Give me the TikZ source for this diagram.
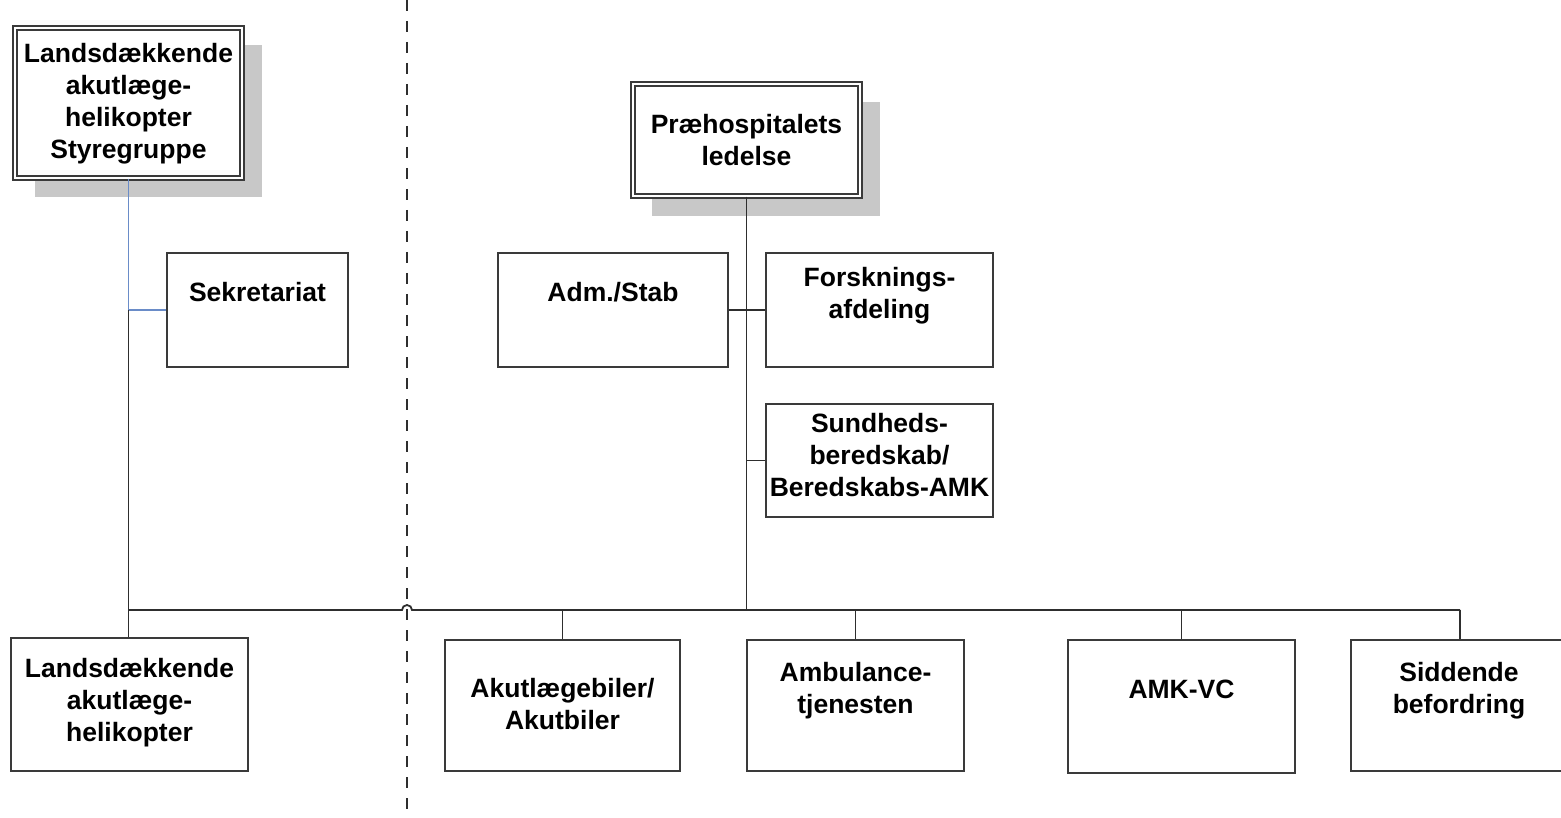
\documentclass[tikz,border=0pt]{standalone}
\usepackage{fontspec}
\setmainfont{Liberation Sans}
\definecolor{boxc}{HTML}{3A3A3A}
\definecolor{linec}{HTML}{2E2E2E}
\definecolor{shadowc}{HTML}{C8C8C8}
\definecolor{bluec}{HTML}{6A8CC8}
\begin{document}
\begin{tikzpicture}[x=1pt,y=-1pt,
  box/.style={draw=boxc, line width=1.6pt, fill=white, inner sep=0pt},
  dbox/.style={draw=boxc, line width=1.4pt, double=white, double distance=2.6pt, fill=white, inner sep=0pt},
  lbl/.style={font=\fontsize{26.5}{32}\selectfont\bfseries, align=center, text=black, inner sep=0pt},
  conn/.style={draw=linec, line width=1.8pt},
  bconn/.style={draw=bluec, line width=1.8pt},
  sep/.style={draw=linec, line width=1.6pt, dash pattern=on 11pt off 10pt},
]
\useasboundingbox (0,0) rectangle (1561,818);

% dashed separator
\coordinate (dtop) at (407,0);
\coordinate (dbot) at (407,818);
\draw[sep] (dtop) -- (dbot);

% shadows
\fill[shadowc] (35,45) rectangle (262,197);
\fill[shadowc] (652,102) rectangle (880,216);

% top boxes
\node[dbox, minimum width=227, minimum height=150] (lh) at (128.5,103) {};
\node[lbl] (lht) at (128.5,104) {Landsdækkende\\akutlæge-\\helikopter\\Styregruppe};
\node[dbox, minimum width=227, minimum height=112] (prae) at (746.5,140) {};
\node[lbl] (praet) at (746.5,140) {Præhospitalets\\ledelse};

% staff boxes
\node[box, minimum width=181, minimum height=114] (sek) at (257.5,310) {};
\node[lbl] (sekt) at (257.5,292) {Sekretariat};
\node[box, minimum width=230, minimum height=114] (adm) at (613,310) {};
\node[lbl] (admt) at (613,292) {Adm./Stab};
\node[box, minimum width=227, minimum height=114] (fors) at (879.5,310) {};
\node[lbl] (forst) at (879.5,295.5) {Forsknings-\\afdeling};
\node[box, minimum width=227, minimum height=113] (sund) at (879.5,460.5) {};
\node[lbl] (sundt) at (879.5,455) {Sundheds-\\beredskab/\\Beredskabs-AMK};

% bottom boxes
\node[box, minimum width=237, minimum height=133] (bl) at (129.5,704.5) {};
\node[lbl] (blt) at (129.5,703) {Landsdækkende\\akutlæge-\\helikopter};
\node[box, minimum width=235, minimum height=131] (akut) at (562.5,705.5) {};
\node[lbl] (akutt) at (562.5,704) {Akutlægebiler/\\Akutbiler};
\node[box, minimum width=217, minimum height=131] (amb) at (855.5,705.5) {};
\node[lbl] (ambt) at (855.5,691) {Ambulance-\\tjenesten};
\node[box, minimum width=227, minimum height=133] (amk) at (1181.5,706.5) {};
\node[lbl] (amkt) at (1181.5,689) {AMK-VC};
\node[box, minimum width=212, minimum height=131] (sid) at (1457,705.5) {};
\node[lbl] (sidt) at (1459,691) {Siddende\\befordring};

% left connectors
\coordinate (j1) at (lh.south |- sek.west);
\draw[bconn] (lh.south) -- (j1) -- (sek.west);
\draw[conn] (j1) -- (lh.south |- bl.north);

% bus with hop over separator
\coordinate (busL) at (lh.south |- 0,610);
\coordinate (hopA) at (402,610);
\coordinate (busR) at (1460,610);
\draw[conn] (busL) -- (hopA) arc (180:360:5) -- (busR);

% right trunk
\draw[conn] (prae.south) -- (prae.south |- busR);
\draw[conn] (adm.east) -- (fors.west);
\draw[conn] (prae.south |- sund.west) -- (sund.west);

% drops
\draw[conn] (akut.north |- busR) -- (akut.north);
\draw[conn] (amb.north |- busR) -- (amb.north);
\draw[conn] (amk.north |- busR) -- (amk.north);
\draw[conn] (busR) -- (busR |- sid.north);
\end{tikzpicture}
\end{document}
